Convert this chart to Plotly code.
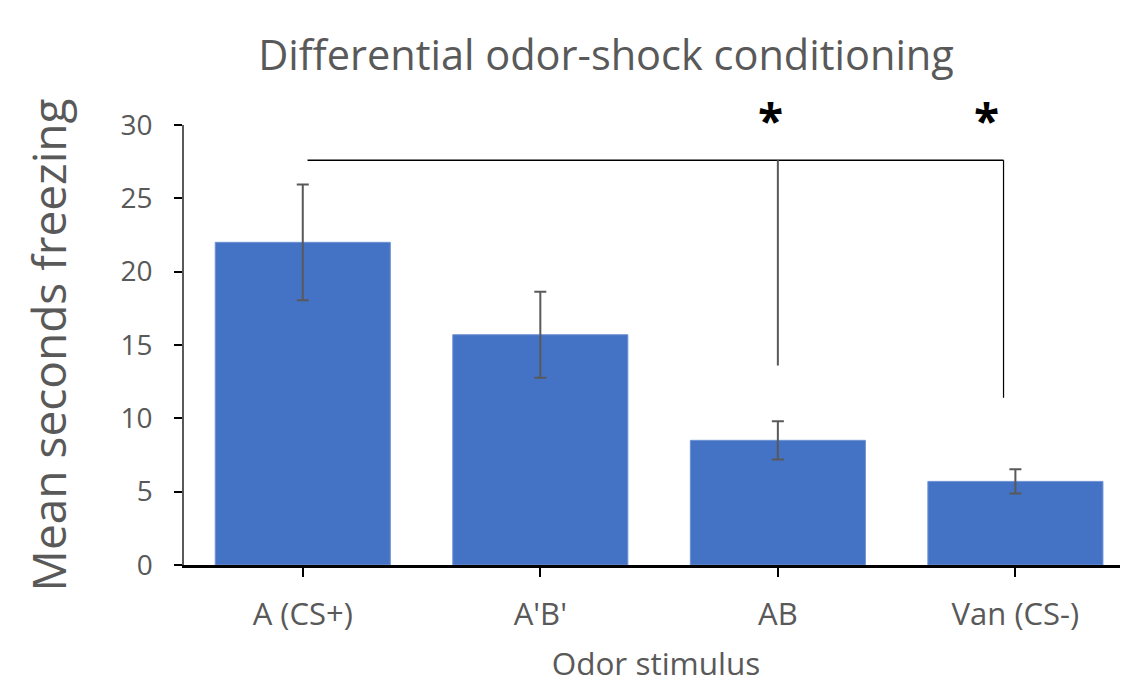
import plotly.graph_objects as go

categories = ["A (CS+)", "A'B'", "AB", "Van (CS-)"]
mean_freezing = [22.0, 15.7, 8.5, 5.7]
sem_freezing = [3.95, 2.93, 1.3, 0.83]
y_ticks = [0, 5, 10, 15, 20, 25, 30]
y_max = 30

# significance bracket: from reference bar to compared bars
bracket_level = 27.6
bracket_start = 0.02
bracket_targets = [2.0, 2.95]
bracket_drop_to = [13.6, 11.4]
star_level = 32.6
star_positions = [1.97, 2.88]

font = "Open Sans"
gray = "#595959"
blue = "#4472C4"

fig = go.Figure()
fig.add_trace(go.Bar(
    x=list(range(len(categories))), y=mean_freezing,
    marker=dict(color=blue, line=dict(color="#6f92d3", width=1)),
    width=0.737,
    error_y=dict(type="data", array=sem_freezing, visible=True,
                 color=gray, thickness=2, width=6),
    showlegend=False,
))

# bracket lines
fig.add_shape(type="line", xref="x", yref="y",
              x0=bracket_start, x1=bracket_targets[-1],
              y0=bracket_level, y1=bracket_level,
              line=dict(color="black", width=1.5))
fig.add_shape(type="line", xref="x", yref="y",
              x0=bracket_targets[0], x1=bracket_targets[0],
              y0=bracket_level, y1=bracket_drop_to[0],
              line=dict(color=gray, width=2))
fig.add_shape(type="line", xref="x", yref="y",
              x0=bracket_targets[1], x1=bracket_targets[1],
              y0=bracket_level, y1=bracket_drop_to[1],
              line=dict(color="black", width=1.2))

for sx in star_positions:
    fig.add_annotation(x=sx, y=star_level / y_max, xref="x", yref="paper",
                       text="<b>*</b>", showarrow=False,
                       font=dict(family=font, size=46, color="black"),
                       yanchor="top")

W, H = 1120, 676
fig.update_layout(
    width=W, height=H,
    paper_bgcolor="white", plot_bgcolor="white",
    margin=dict(l=176, r=0, t=117, b=119),
    title=dict(text="Differential odor-shock conditioning",
               x=598 / W, xanchor="center", xref="container",
               y=1 - 47 / H, yanchor="middle", yref="container",
               font=dict(family=font, size=41.5, color=gray)),
    bargap=0.263,
)

fig.update_xaxes(
    tickmode="array", tickvals=list(range(len(categories))), ticktext=categories,
    range=[-0.5, 3.474],
    showline=True, linecolor="black", linewidth=2.5,
    ticks="outside", ticklen=9, tickwidth=2, tickcolor="black",
    tickfont=dict(family=font, size=31, color=gray),
    ticklabelstandoff=11,
    showgrid=False, zeroline=False,
    title=dict(text="Odor stimulus", font=dict(family=font, size=31.5, color=gray),
               standoff=24),
    automargin=False,
)
fig.update_yaxes(
    range=[0, y_max], tickvals=y_ticks,
    showline=True, linecolor=gray, linewidth=1.5,
    ticks="outside", ticklen=8, tickwidth=1.5, tickcolor="black",
    tickfont=dict(family=font, size=28, color=gray),
    ticklabelstandoff=16,
    showgrid=False, zeroline=False,
    title=dict(text="Mean seconds freezing", font=dict(family=font, size=46, color=gray),
               standoff=40),
    automargin=False,
)

fig.write_html("out.html")
